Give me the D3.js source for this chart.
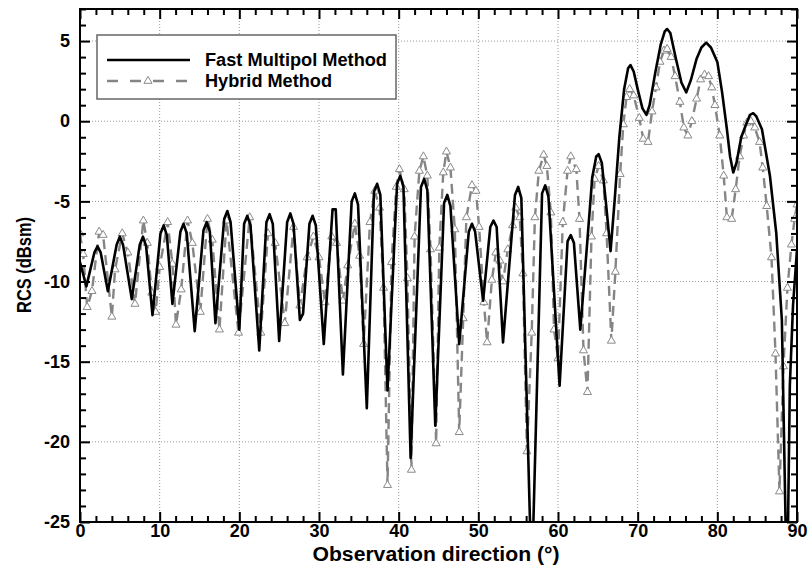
<!DOCTYPE html>
<html>
<head>
<meta charset="utf-8">
<script src="https://cdn.jsdelivr.net/npm/d3@7"></script>
<style>
  body { margin: 0; background: #fff; }
  text { font-family: "Liberation Sans", Arial, sans-serif; font-weight: bold; }
</style>
</head>
<body>
<div id="chart"></div>
<script>
// tick values
const xTicks = [0, 10, 20, 30, 40, 50, 60, 70, 80, 90];
const yTicks = [-25, -20, -15, -10, -5, 0, 5];

// Fast Multipol Method (solid black)
const fmmX = [0, 0.8, 1.8, 2.2, 2.6, 3.5, 4.6, 5.0, 5.4, 6.5, 7.5, 7.9, 8.3, 9.1, 10.1, 10.5, 10.9, 11.6,
  12.6, 13.0, 13.4, 14.4, 15.5, 15.9, 16.3, 17.0, 18.1, 18.5, 18.9, 20.0, 20.6, 21.0, 21.4, 22.5,
  23.4, 23.8, 24.2, 25.0, 26.0, 26.4, 26.8, 27.6, 28.0, 28.8, 29.2, 29.6, 30.6, 31.7, 32.1, 33.0,
  34.1, 34.5, 34.9, 36.0, 36.9, 37.3, 37.7, 38.6, 39.8, 40.2, 40.6, 41.5, 42.8, 43.2, 43.6, 44.6,
  45.7, 46.1, 46.5, 47.6, 48.8, 49.2, 49.6, 50.6, 51.5, 51.9, 52.3, 53.1, 54.6, 55.0, 55.4, 56.7,
  58.0, 58.4, 58.8, 60.2, 61.2, 61.6, 62.0, 62.8,
  63.6, 64.3, 64.8, 65.1, 65.5, 66.0, 66.6, 67.1, 67.7, 68.3, 68.8, 69.1, 69.5, 70.0, 70.6, 71.1,
  71.5, 72.2, 72.9, 73.4, 73.7, 74.1, 74.8, 75.5, 76.1, 76.7, 77.4, 78.0, 78.6, 79.2, 80.0, 80.6,
  81.2, 81.6, 82.0, 82.4, 83.0, 83.6, 84.1, 84.5, 84.9, 85.6, 86.6, 87.4, 88.1, 88.75, 89.1, 89.5, 90];
const fmmY = [-8.8, -10.3, -8.2, -7.8, -8.2, -10.6, -7.7, -7.2, -7.7, -11.1, -7.7, -7.2, -7.8, -12.1, -7.0, -6.5, -7.1, -11.4,
  -6.9, -6.4, -7.0, -13.1, -6.8, -6.3, -6.9, -12.6, -6.1, -5.6, -6.3, -13.0, -6.4, -5.9, -6.5, -14.3,
  -6.3, -5.8, -6.4, -13.7, -6.3, -5.75, -6.4, -12.4, -12.0, -6.4, -5.9, -6.5, -13.9, -5.5, -5.5, -15.8,
  -5.0, -4.5, -5.2, -17.9, -4.4, -3.9, -4.6, -16.8, -3.9, -3.4, -4.1, -21.0, -4.1, -3.6, -4.3, -19.0,
  -5.1, -4.6, -5.3, -13.9, -6.9, -6.4, -6.9, -11.2, -6.6, -6.2, -6.6, -13.8, -4.6, -4.1, -4.8, -29,
  -4.5, -4.0, -4.7, -16.5, -7.5, -7.1, -7.6, -13.0,
  -8.0, -3.5, -2.2, -2.06, -2.6, -5.0, -8.1, -5.0, -1.0, 2.0, 3.3, 3.5, 3.1, 2.0, 0.8, 0.4,
  1.0, 3.0, 4.8, 5.6, 5.75, 5.5, 3.9, 2.4, 1.8, 2.6, 3.9, 4.6, 4.9, 4.6, 3.7, 1.8,
  -0.5, -2.2, -3.2, -2.6, -1.0, -0.2, 0.4, 0.5, 0.3, -0.5, -3.4, -7.0, -12.4, -30, -16.5, -11.5, -8.0];

// Hybrid Method (dashed grey with triangles)
const hybX = [0, 0.4, 0.9, 1.5, 2.4, 2.9, 4.0, 4.4, 5.3, 6.0, 6.9, 7.95, 8.45, 9.0, 9.5, 10.0,
  11.0, 11.6, 12.05, 12.7, 13.5, 14.1, 15.1, 16.0, 16.6, 17.5, 18.4, 19.9, 21.3, 22.7, 23.6, 24.5,
  25.7, 26.8, 27.6, 28.5, 29.3, 30.0, 30.75, 31.6, 32.2, 33.0, 33.6, 34.5, 35.1, 35.6, 36.4, 37.0,
  37.6, 38.1, 38.6, 39.1, 39.7, 40.1, 40.7, 41.1, 41.6, 42.0, 42.6, 43.1, 43.6, 44.0, 44.7, 45.1,
  45.6, 46.0, 46.5, 47.05, 47.6, 48.1, 48.5, 49.2, 49.7, 50.1, 50.7, 51.1, 51.7, 52.2, 52.7, 53.1,
  53.7, 54.3, 54.7, 55.2, 55.6, 56.1, 56.7, 57.1, 57.6, 58.2, 58.6, 59.1, 59.5, 60.0, 60.6, 61.2,
  61.6, 62.3, 62.7, 63.2, 63.7, 64.2, 64.6, 65.1, 65.7, 66.1, 66.7, 67.2, 67.8, 68.2, 68.6, 69.0,
  69.5, 70.2, 70.7, 71.3, 71.8, 72.3, 72.8, 73.3, 73.7, 74.2, 74.7, 75.3, 75.8, 76.3, 76.8, 77.4,
  77.9, 78.4, 78.9, 79.3, 79.7, 80.3, 80.8, 81.2, 81.8, 82.3, 82.8, 83.3, 83.7, 84.2, 84.7, 85.3,
  85.7, 86.2, 86.8, 87.3, 87.8, 88.3, 88.8, 89.3, 89.7, 90];
const hybY = [-7.0, -8.3, -11.6, -10.6, -6.9, -7.1, -12.2, -9.25, -7.0, -8.2, -11.4, -6.2, -7.6, -10.7, -11.9, -9.1,
  -6.3, -8.9, -12.7, -10.5, -6.2, -7.6, -11.9, -6.1, -7.4, -13.0, -6.2, -13.2, -6.0, -13.2, -7.0, -7.6,
  -12.6, -6.6, -11.5, -8.5, -7.2, -8.5, -11.3, -7.2, -7.6, -11.2, -9.0, -6.4, -8.4, -13.9, -6.3, -4.35,
  -5.4, -10.4, -22.7, -8.8, -4.1, -3.0, -4.25, -9.8, -21.75, -7.2, -3.1, -2.2, -3.4, -8.0, -20.1, -7.9,
  -3.2, -1.9, -2.9, -6.75, -19.4, -12.3, -6.0, -4.0, -4.35, -6.6, -11.3, -13.8, -9.9, -8.2, -8.7, -10.0,
  -8.0, -6.5, -5.4, -6.0, -9.5, -20.6, -13.2, -6.0, -3.1, -2.1, -2.8, -5.7, -13.0, -14.8, -6.3, -3.1,
  -2.2, -3.0, -6.1, -14.3, -16.9, -7.2, -3.6, -2.8, -3.7, -7.0, -13.7, -9.4, -3.3, -0.2, 1.5, 2.0,
  1.6, 0.2, -1.1, -1.3, 0.6, 2.1, 3.7, 4.4, 4.5, 4.0, 2.8, 1.2, -0.4, -0.9, 0.0, 1.4,
  2.6, 2.9, 2.8, 2.1, 1.0, -0.9, -3.4, -6.0, -6.1, -4.25, -2.2, -0.9, -0.1, 0.0, -0.4, -1.3,
  -2.9, -5.3, -8.5, -14.5, -23.1, -15.3, -10.4, -7.7, -6.1, -5.2];

const fmmData = fmmX.map((d, i) => ({ x: d, y: fmmY[i] }));
const hybData = hybX.map((d, i) => ({ x: d, y: hybY[i] }));

let margin = { top: 9, left: 80, right: 15, bottom: 43 },
  width = 812,
  height = 565;

let svg = d3.select('#chart')
  .append('svg')
  .attr('width', width)
  .attr('height', height)
  .style('background-color', '#fff');

// scales
let xScale = d3.scaleLinear()
  .domain([0, 90])
  .range([margin.left, width - margin.right]);

let yScale = d3.scaleLinear()
  .domain([-25, 7])
  .range([height - margin.bottom, margin.top]);

let plotBottom = height - margin.bottom,
  plotRight = width - margin.right;

// dotted grid
svg.append('g')
  .selectAll('line')
  .data(xTicks.slice(1, -1))
  .enter()
  .append('line')
  .attr('x1', d => xScale(d)).attr('x2', d => xScale(d))
  .attr('y1', margin.top).attr('y2', plotBottom)
  .attr('stroke', '#999').attr('stroke-width', 1).attr('stroke-dasharray', '1,2');

svg.append('g')
  .selectAll('line')
  .data(yTicks.slice(1))
  .enter()
  .append('line')
  .attr('x1', margin.left).attr('x2', plotRight)
  .attr('y1', d => yScale(d)).attr('y2', d => yScale(d))
  .attr('stroke', '#999').attr('stroke-width', 1).attr('stroke-dasharray', '1,2');

// clip for the curves
svg.append('clipPath').attr('id', 'plot-clip')
  .append('rect')
  .attr('x', margin.left).attr('y', margin.top)
  .attr('width', plotRight - margin.left).attr('height', plotBottom - margin.top);

let line = d3.line()
  .x(d => xScale(d.x))
  .y(d => yScale(d.y));

let curves = svg.append('g').attr('clip-path', 'url(#plot-clip)');

// hybrid method
curves.append('path')
  .datum(hybData)
  .attr('d', line)
  .attr('fill', 'none')
  .attr('stroke', '#858585')
  .attr('stroke-width', 2.4)
  .attr('stroke-dasharray', '10,6');

let tri = d3.symbol().type(d3.symbolTriangle).size(28);

curves.selectAll('.tri')
  .data(hybData)
  .enter()
  .append('path')
  .attr('class', 'tri')
  .attr('d', tri)
  .attr('transform', d => `translate(${xScale(d.x)},${yScale(d.y)})`)
  .attr('fill', '#fff')
  .attr('stroke', '#8a8a8a')
  .attr('stroke-width', 1);

// fast multipol method
curves.append('path')
  .datum(fmmData)
  .attr('d', line)
  .attr('fill', 'none')
  .attr('stroke', '#000')
  .attr('stroke-width', 2.6)
  .attr('stroke-linejoin', 'round');

// axes with inward ticks
function styleAxis(g) {
  g.select('.domain').remove();
  g.selectAll('.tick line').attr('stroke', '#000').attr('stroke-width', 2);
  g.selectAll('.tick text').style('font-size', '18px').attr('fill', '#000');
}

let xMinor = d3.range(0, 91, 2).filter(d => d % 10 !== 0);
let yMinor = d3.range(-25, 8, 1).filter(d => d % 5 !== 0);

svg.append('g')
  .attr('transform', `translate(0,${plotBottom})`)
  .call(d3.axisBottom(xScale).tickValues(xTicks).tickSize(-10).tickPadding(2).tickFormat(d => String(d)))
  .call(styleAxis);
svg.append('g')
  .attr('transform', `translate(0,${plotBottom})`)
  .call(d3.axisBottom(xScale).tickValues(xMinor).tickSize(-6).tickFormat(''))
  .call(styleAxis);
svg.append('g')
  .attr('transform', `translate(0,${margin.top})`)
  .call(d3.axisTop(xScale).tickValues(xTicks).tickSize(-10).tickFormat(''))
  .call(styleAxis);
svg.append('g')
  .attr('transform', `translate(0,${margin.top})`)
  .call(d3.axisTop(xScale).tickValues(xMinor).tickSize(-6).tickFormat(''))
  .call(styleAxis);

svg.append('g')
  .attr('transform', `translate(${margin.left},0)`)
  .call(d3.axisLeft(yScale).tickValues(yTicks).tickSize(-10).tickPadding(10).tickFormat(d => String(d)))
  .call(styleAxis);
svg.append('g')
  .attr('transform', `translate(${margin.left},0)`)
  .call(d3.axisLeft(yScale).tickValues(yMinor).tickSize(-6).tickFormat(''))
  .call(styleAxis);
svg.append('g')
  .attr('transform', `translate(${plotRight},0)`)
  .call(d3.axisRight(yScale).tickValues(yTicks).tickSize(-10).tickFormat(''))
  .call(styleAxis);
svg.append('g')
  .attr('transform', `translate(${plotRight},0)`)
  .call(d3.axisRight(yScale).tickValues(yMinor).tickSize(-6).tickFormat(''))
  .call(styleAxis);

// frame
svg.append('rect')
  .attr('x', margin.left).attr('y', margin.top)
  .attr('width', plotRight - margin.left).attr('height', plotBottom - margin.top)
  .attr('fill', 'none').attr('stroke', '#000').attr('stroke-width', 2);

// axis titles
svg.append('text')
  .attr('x', 436)
  .attr('y', 561)
  .attr('text-anchor', 'middle')
  .attr('textLength', 247)
  .attr('lengthAdjust', 'spacingAndGlyphs')
  .style('font-size', '20px')
  .text('Observation direction (°)');

svg.append('text')
  .attr('transform', 'translate(31,265) rotate(-90)')
  .attr('text-anchor', 'middle')
  .attr('textLength', 96)
  .attr('lengthAdjust', 'spacingAndGlyphs')
  .style('font-size', '20px')
  .text('RCS (dBsm)');

// legend
let legend = svg.append('g');
legend.append('rect')
  .attr('x', 97).attr('y', 35).attr('width', 299).attr('height', 64)
  .attr('fill', '#fff').attr('stroke', '#666').attr('stroke-width', 1.5);
legend.append('line')
  .attr('x1', 107).attr('x2', 190).attr('y1', 60).attr('y2', 60)
  .attr('stroke', '#000').attr('stroke-width', 2.6);
legend.append('line')
  .attr('x1', 107).attr('x2', 190).attr('y1', 81).attr('y2', 81)
  .attr('stroke', '#858585').attr('stroke-width', 2.4).attr('stroke-dasharray', '11,12');
legend.append('path')
  .attr('d', tri)
  .attr('transform', 'translate(148,81)')
  .attr('fill', '#fff').attr('stroke', '#8a8a8a').attr('stroke-width', 1);
legend.append('text')
  .attr('x', 205).attr('y', 66)
  .attr('textLength', 182).attr('lengthAdjust', 'spacingAndGlyphs')
  .style('font-size', '18px')
  .text('Fast Multipol Method');
legend.append('text')
  .attr('x', 205).attr('y', 87)
  .attr('textLength', 127).attr('lengthAdjust', 'spacingAndGlyphs')
  .style('font-size', '18px')
  .text('Hybrid Method');
</script>
</body>
</html>
